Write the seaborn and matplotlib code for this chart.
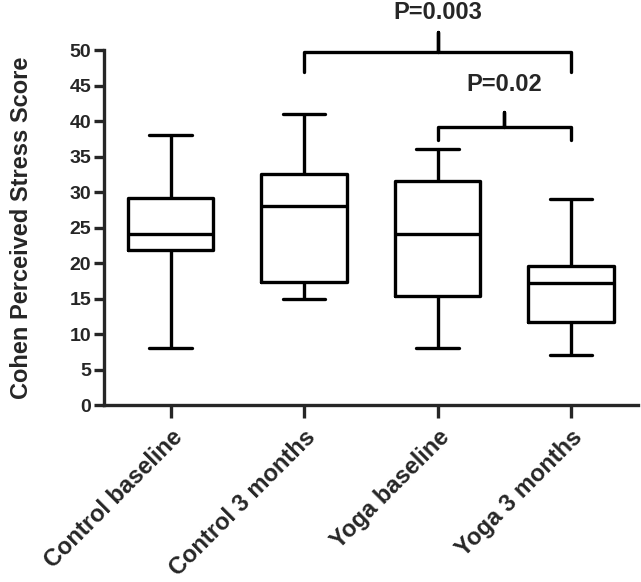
import numpy as np
import pandas as pd
import matplotlib
matplotlib.use("Agg")
import matplotlib.pyplot as plt
import seaborn as sns

# five-number summaries: min, Q1, median, Q3, max
groups = ["Control baseline", "Control 3 months", "Yoga baseline", "Yoga 3 months"]
control_baseline = [8, 21.8, 24.1, 29.1, 38]
control_3m = [15, 17.3, 28.1, 32.6, 41]
yoga_baseline = [8, 15.4, 24.1, 31.6, 36]
yoga_3m = [7, 11.7, 17.2, 19.6, 29]
y_ticks = list(range(0, 51, 5))

sns.set_style("ticks")
plt.rcParams["font.family"] = ["Liberation Sans", "DejaVu Sans"]
plt.rcParams["font.weight"] = "bold"

df = pd.DataFrame({
    "group": np.repeat(groups, 5),
    "score": control_baseline + control_3m + yoga_baseline + yoga_3m,
})

fig = plt.figure(figsize=(6.41, 5.82), dpi=100)
ax = fig.add_axes([0.162, 0.304, 0.833, 0.61])
lw = 2.4
sns.boxplot(data=df, x="group", y="score", order=groups, whis=(0, 100),
            fill=False, color="black", width=0.64, linewidth=lw, ax=ax)

ax.set_xlim(-0.5, 3.5)
ax.set_ylim(0, 50)
ax.set_yticks(y_ticks)
ax.set_xlabel("")
ax.set_ylabel("Cohen Perceived Stress Score", fontsize=17, fontweight="bold", labelpad=26)
sns.despine(ax=ax)
for s in ["left", "bottom"]:
    ax.spines[s].set_linewidth(lw)
ax.tick_params(axis="y", width=lw, length=7, labelsize=14, pad=2)
ax.tick_params(axis="x", width=lw, length=9, labelsize=17, pad=6)
plt.setp(ax.get_xticklabels(), rotation=45, ha="right", rotation_mode="anchor", fontweight="bold")
plt.setp(ax.get_yticklabels(), fontweight="bold")


def bracket(x1, x2, y, leg, spike, label, ty):
    xm = (x1 + x2) / 2
    ax.plot([x1, x1, xm, xm, xm, x2, x2], [y - leg, y, y, y + spike, y, y, y - leg],
            color="black", lw=lw, clip_on=False, solid_joinstyle="round")
    ax.text(xm, ty, label, ha="center", va="center", fontsize=17, fontweight="bold")


bracket(1, 3, 49.7, 2.8, 2.9, "P=0.003", 55.3)
bracket(2, 3, 39.2, 1.8, 2.1, "P=0.02", 45.1)

fig.savefig("out.png", dpi=100)
